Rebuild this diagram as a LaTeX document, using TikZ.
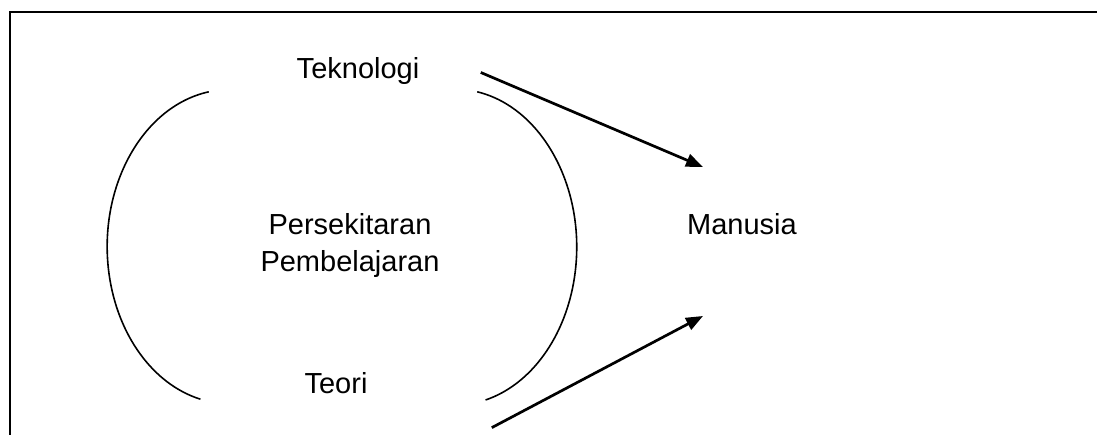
\documentclass[tikz,border=0pt]{standalone}
\usepackage{fontspec}
\setmainfont{Liberation Sans}
\usetikzlibrary{arrows.meta}

\tikzset{
  lbl/.style={inner sep=0, outer sep=0, font=\fontsize{29pt}{37pt}\selectfont},
  bow/.style={line width=1.6pt},
  link/.style={line width=2.7pt, -{Triangle[length=17pt,width=13pt]}},
}

\begin{document}
\begin{tikzpicture}[x=1pt,y=-1pt,line cap=rect]
\useasboundingbox (0,0) rectangle (1097,435);
% frame, open at right and bottom
\draw [line width=2.7pt] (10,440) -- (10,12) -- (1100,12);
% the two bows
\draw [bow] (208,92) arc (260:104:122 and 157);
\draw [bow] (478,92) arc (-79:75:122 and 158);
% labels
\node[lbl, anchor=base] (tek) at (358,79) {Teknologi};
\node[lbl, align=center] (env) at (350,246) {Persekitaran\\Pembelajaran};
\node[lbl, anchor=base] (man) at (742,235) {Manusia};
\node[lbl, anchor=base] (teo) at (336,393) {Teori};
% arrows into Manusia
\coordinate (tek-end) at (482,73);
\coordinate (man-top) at (703,167);
\coordinate (teo-end) at (493,427);
\coordinate (man-bot) at (703,316);
\draw [link] (tek-end) -- (man-top);
\draw [link] (teo-end) -- (man-bot);
\end{tikzpicture}
\end{document}
